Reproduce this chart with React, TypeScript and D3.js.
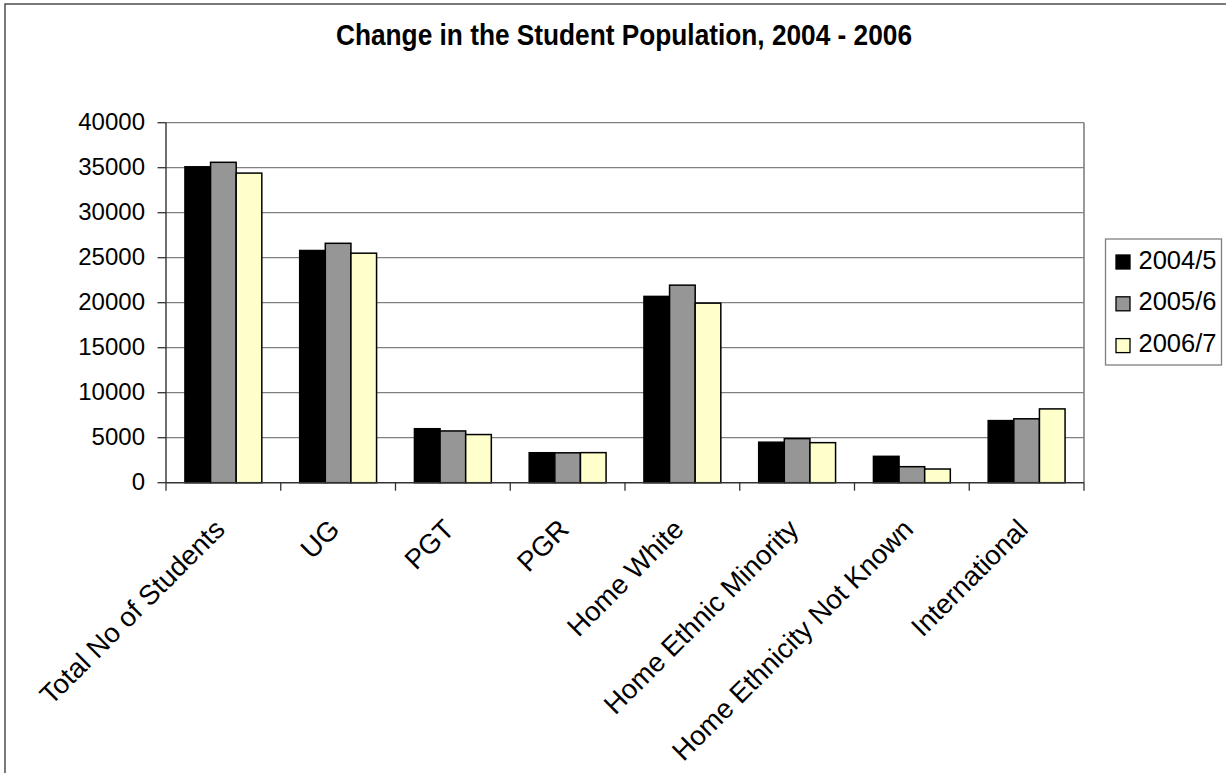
import React from "react";
import * as d3 from "d3";

// Student population by category for three academic years
const categories = [
  "Total No of Students",
  "UG",
  "PGT",
  "PGR",
  "Home White",
  "Home Ethnic Minority",
  "Home Ethnicity Not Known",
  "International",
];
const years = ["2004/5", "2005/6", "2006/7"];
const values2004 = [35100, 25800, 6000, 3330, 20700, 4500, 2930, 6900];
const values2005 = [35600, 26600, 5750, 3320, 21950, 4900, 1780, 7100];
const values2006 = [34400, 25500, 5350, 3340, 19950, 4450, 1520, 8200];
const yTicks = [0, 5000, 10000, 15000, 20000, 25000, 30000, 35000, 40000];
const seriesColors = ["#000000", "#969696", "#FFFFCC"];

const W = 1226;
const H = 773;
const left = 166;
const right = 1084;
const top = 122.7;
const bottom = 482.7;
const font = "'Liberation Sans', Arial, sans-serif";

export default function App() {
  const series = [values2004, values2005, values2006];

  const x0 = d3
    .scaleBand<string>()
    .domain(categories)
    .range([left, right])
    .paddingInner(0.33)
    .paddingOuter(0.165);
  const x1 = d3
    .scaleBand<string>()
    .domain(years)
    .range([0, x0.bandwidth()])
    .padding(0);
  const y = d3.scaleLinear().domain([0, 40000]).range([bottom, top]);

  const step = x0.step();
  const boundaries = d3.range(categories.length + 1).map((i) => left + i * step);

  return (
    <svg
      width={W}
      height={H}
      style={{ position: "absolute", left: 0, top: 0, background: "#fff" }}
      fontFamily={font}
    >
      <rect x={0} y={0} width={W} height={H} fill="#fff" />
      {/* chart area frame */}
      <rect x={5} y={4} width={W + 20} height={H + 20} fill="none" stroke="#333" strokeWidth={1.3} />

      <text
        x={624}
        y={45}
        textAnchor="middle"
        fontWeight="bold"
        fontSize={29}
        textLength={576}
        lengthAdjust="spacingAndGlyphs"
        fill="#000"
      >
        Change in the Student Population, 2004 - 2006
      </text>

      {/* gridlines */}
      {yTicks.slice(1).map((t) => (
        <line key={t} x1={left} x2={right} y1={y(t)} y2={y(t)} stroke="#808080" strokeWidth={1.2} />
      ))}
      {/* plot area right border */}
      <line x1={right} x2={right} y1={top} y2={bottom} stroke="#808080" strokeWidth={1.6} />

      {/* bars */}
      {categories.map((c, ci) => (
        <g key={c} transform={`translate(${x0(c)},0)`}>
          {years.map((yr, si) => {
            const v = series[si][ci];
            return (
              <rect
                key={yr}
                x={x1(yr)}
                y={y(v)}
                width={x1.bandwidth()}
                height={y(0) - y(v)}
                fill={seriesColors[si]}
                stroke="#000"
                strokeWidth={1.5}
              />
            );
          })}
        </g>
      ))}

      {/* y axis */}
      <line x1={left} x2={left} y1={top} y2={bottom} stroke="#333" strokeWidth={1.4} />
      {yTicks.map((t) => (
        <g key={t}>
          <line x1={left - 8.5} x2={left} y1={y(t)} y2={y(t)} stroke="#333" strokeWidth={1.3} />
          <text x={145} y={y(t) + 7.5} textAnchor="end" fontSize={24} fill="#000">
            {t}
          </text>
        </g>
      ))}

      {/* x axis */}
      <line x1={left} x2={right} y1={bottom} y2={bottom} stroke="#333" strokeWidth={1.4} />
      {boundaries.map((bx, i) => (
        <line key={i} x1={bx} x2={bx} y1={bottom} y2={bottom + 8} stroke="#333" strokeWidth={1.3} />
      ))}
      {categories.map((c) => {
        const cx = (x0(c) as number) + x0.bandwidth() / 2;
        return (
          <text
            key={c}
            transform={`translate(${cx + 3},${531}) rotate(-45)`}
            textAnchor="end"
            fontSize={27.5}
            fill="#000"
          >
            {c}
          </text>
        );
      })}

      {/* legend */}
      <rect x={1105.5} y={239} width={116} height={126} fill="#fff" stroke="#808080" strokeWidth={1.3} />
      {years.map((yr, i) => {
        const cy = 262 + i * 41.8;
        return (
          <g key={yr}>
            <rect
              x={1116}
              y={cy - 7}
              width={14}
              height={14}
              fill={seriesColors[i]}
              stroke="#000"
              strokeWidth={1.3}
            />
            <text x={1138.5} y={cy + 6.5} fontSize={25.5} fill="#000">
              {yr}
            </text>
          </g>
        );
      })}
    </svg>
  );
}
